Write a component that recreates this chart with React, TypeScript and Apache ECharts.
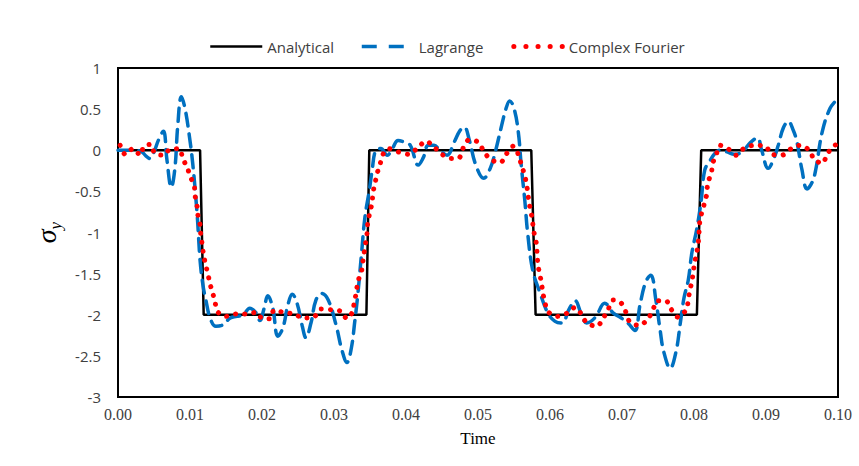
import React, { useEffect, useRef } from "react";
import * as echarts from "echarts";

const seriesNames = ["Analytical", "Lagrange", "Complex Fourier"];
const yAxisLabel = "σ";
const yAxisSub = "y";
const xAxisLabel = "Time";

const analyticalTime = [0, 0.0114, 0.0119, 0.0345, 0.0349, 0.0574, 0.058, 0.0804, 0.081, 0.1];
const analyticalSigma = [0, 0, -2, -2, 0, 0, -2, -2, 0, 0];

const lagrangeTime = [
  0.0, 0.0017, 0.0031, 0.0039, 0.0044, 0.005, 0.0056, 0.0063, 0.0068, 0.0074, 0.0079, 0.0083, 0.0088,
  0.0093, 0.0099, 0.0104, 0.011, 0.0114, 0.0118, 0.0122, 0.0128, 0.0136, 0.0144, 0.0156, 0.0165,
  0.0174, 0.0183, 0.0192, 0.0197, 0.0203, 0.0208, 0.0215, 0.0222, 0.0229, 0.0236, 0.0242, 0.0249,
  0.0256, 0.0261, 0.0268, 0.0275, 0.0283, 0.0292, 0.0303, 0.0311, 0.0318, 0.0324, 0.0329, 0.0333,
  0.0338, 0.0343, 0.0349, 0.0353, 0.0358, 0.0365, 0.0374, 0.0381, 0.0389, 0.0397, 0.0406, 0.0417,
  0.0424, 0.0431, 0.0439, 0.0447, 0.0457, 0.0467, 0.0475, 0.0481, 0.0488, 0.0497, 0.0508, 0.0517,
  0.0524, 0.0532, 0.0539, 0.0544, 0.055, 0.0556, 0.056, 0.0565, 0.0569, 0.0576, 0.0586, 0.0597,
  0.0607, 0.0617, 0.0626, 0.0635, 0.0643, 0.0651, 0.0663, 0.0676, 0.0688, 0.0699, 0.0708, 0.0718,
  0.0725, 0.0733, 0.074, 0.0747, 0.0753, 0.0758, 0.0767, 0.0775, 0.0781, 0.0786, 0.0792, 0.0797,
  0.0804, 0.081, 0.0815, 0.0822, 0.0829, 0.0836, 0.0846, 0.0856, 0.0867, 0.0878, 0.0888, 0.0894,
  0.0903, 0.091, 0.0917, 0.0924, 0.0931, 0.0938, 0.0943, 0.095, 0.0957, 0.0964, 0.0969, 0.0978,
  0.0989, 0.0999,
];
const lagrangeSigma = [
  0.0, 0.0, -0.01, -0.07, -0.1, -0.02, 0.12, 0.23, -0.12, -0.45, -0.22, 0.3, 0.65,
  0.51, 0.18, -0.18, -0.79, -1.34, -1.64, -1.82, -2.04, -2.14, -2.13, -2.04, -2.02,
  -2.0, -1.92, -1.98, -2.07, -1.92, -1.77, -1.92, -2.26, -2.16, -1.88, -1.75, -1.87,
  -2.14, -2.28, -2.1, -1.82, -1.74, -1.82, -2.13, -2.43, -2.58, -2.41, -2.07, -1.76,
  -1.28, -0.81, -0.49, -0.24, 0.0, 0.02, -0.06, 0.02, 0.12, 0.1, 0.06, -0.18,
  -0.09, 0.06, 0.06, 0.0, -0.06, 0.1, 0.24, 0.28, 0.12, -0.18, -0.34, -0.22,
  -0.02, 0.27, 0.51, 0.6, 0.51, 0.22, -0.18, -0.61, -1.01, -1.46, -1.73, -1.98,
  -2.08, -2.1, -1.94, -1.83, -1.98, -2.1, -2.03, -1.86, -1.98, -2.04, -2.1, -2.19,
  -1.88, -1.6, -1.52, -1.82, -2.19, -2.45, -2.65, -2.45, -2.1, -1.8, -1.58, -1.25,
  -0.95, -0.61, -0.24, -0.13, -0.04, 0.0, -0.02, -0.05, -0.02, 0.09, 0.15, 0.0,
  -0.22, -0.12, 0.06, 0.27, 0.35, 0.24, 0.1, -0.24, -0.47, -0.39, -0.24, 0.22,
  0.51, 0.62,
];

const fourierTime = [
  0.0003, 0.001, 0.0021, 0.0031, 0.0036, 0.0046, 0.0051, 0.0063, 0.0072, 0.0085, 0.009, 0.0096,
  0.0101, 0.0106, 0.0107, 0.011, 0.0111, 0.0114, 0.0115, 0.0117, 0.0119, 0.0122, 0.0125, 0.0128,
  0.0132, 0.0135, 0.0139, 0.015, 0.0164, 0.0179, 0.0192, 0.0201, 0.0211, 0.0217, 0.0229, 0.0244,
  0.0258, 0.0272, 0.0282, 0.0297, 0.031, 0.0318, 0.0326, 0.0328, 0.0331, 0.0333, 0.0338, 0.034,
  0.0342, 0.0344, 0.0346, 0.0347, 0.035, 0.0353, 0.0354, 0.0357, 0.036, 0.0364, 0.0368, 0.0376,
  0.0389, 0.0404, 0.0415, 0.0428, 0.0439, 0.045, 0.0463, 0.0474, 0.0479, 0.0488, 0.05, 0.0508,
  0.0517, 0.0531, 0.0539, 0.0549, 0.0556, 0.056, 0.0564, 0.0567, 0.0569, 0.0571, 0.0574, 0.0576,
  0.0578, 0.0581, 0.0582, 0.0583, 0.0585, 0.0588, 0.059, 0.0593, 0.0597, 0.061, 0.0624, 0.0635,
  0.0644, 0.0651, 0.0665, 0.0674, 0.0681, 0.0688, 0.0699, 0.0706, 0.0711, 0.0724, 0.0736, 0.0743,
  0.0749, 0.0761, 0.0768, 0.0778, 0.0789, 0.0792, 0.0794, 0.0797, 0.0799, 0.0801, 0.0804, 0.0806,
  0.0807, 0.0808, 0.0811, 0.0815, 0.0818, 0.0819, 0.0824, 0.0826, 0.0831, 0.0836, 0.0847, 0.0858,
  0.0869, 0.0883, 0.0899, 0.0908, 0.0922, 0.0935, 0.0947, 0.096, 0.0967, 0.0978, 0.0985, 0.0993,
  0.0999,
];
const fourierSigma = [
  0.06, -0.05, 0.02, -0.06, 0.05, 0.07, -0.04, -0.06, 0.01, 0.02, -0.1, -0.21,
  -0.33, -0.44, -0.55, -0.69, -0.79, -0.91, -1.03, -1.15, -1.28, -1.4, -1.51, -1.63,
  -1.75, -1.86, -1.97, -2.02, -1.99, -1.99, -1.97, -2.05, -2.05, -1.94, -1.97, -1.99,
  -2.04, -2.03, -1.93, -1.94, -1.96, -2.05, -1.96, -1.85, -1.73, -1.6, -1.48, -1.36,
  -1.24, -1.12, -1.0, -0.87, -0.75, -0.63, -0.52, -0.4, -0.28, -0.17, -0.05, 0.02,
  -0.02, -0.05, 0.02, 0.11, 0.04, -0.05, -0.1, -0.09, 0.02, 0.13, 0.1, -0.01,
  -0.11, -0.15, -0.05, 0.05, -0.05, -0.17, -0.28, -0.39, -0.51, -0.64, -0.77, -0.89,
  -1.01, -1.13, -1.25, -1.37, -1.48, -1.6, -1.73, -1.85, -1.96, -2.02, -1.98, -1.91,
  -2.0, -2.1, -2.14, -2.04, -1.93, -1.82, -1.86, -1.98, -2.09, -2.13, -2.05, -1.94,
  -1.83, -1.83, -1.93, -2.03, -1.94, -1.83, -1.71, -1.6, -1.48, -1.36, -1.24, -1.12,
  -1.0, -0.87, -0.75, -0.63, -0.52, -0.4, -0.28, -0.16, -0.05, 0.06, 0.02, -0.06,
  0.02, 0.06, 0.05, -0.05, -0.06, 0.02, 0.06, 0.0, -0.11, -0.16, -0.05, 0.05,
  0.07,
];

const zip = (xs: number[], ys: number[]) => xs.map((x, i) => [x, ys[i]]);

export default function App() {
  const ref = useRef<HTMLDivElement>(null);
  useEffect(() => {
    if (!ref.current) return;
    const chart = echarts.init(ref.current, null, { renderer: "svg" });
    chart.setOption({
      animation: false,
      backgroundColor: "#ffffff",
      grid: {
        left: 118,
        right: 21,
        top: 68,
        bottom: 69,
        show: true,
        borderColor: "#000000",
        borderWidth: 2,
        backgroundColor: "transparent",
      },
      legend: {
        left: 204,
        top: 34,
        itemWidth: 52,
        itemHeight: 14,
        itemGap: 26,
        itemStyle: { opacity: 0 },
        textStyle: { fontFamily: "Open Sans", fontSize: 15, color: "#404040" },
        data: [
          { name: seriesNames[0], lineStyle: { color: "#000000", width: 2.5, type: "solid" } },
          { name: seriesNames[1], lineStyle: { color: "#0070C0", width: 3.5, type: [15, 12], cap: "butt" } },
          { name: seriesNames[2], lineStyle: { color: "#FF0000", width: 5, type: [0.1, 12], cap: "round", dashOffset: -2 } },
        ],
      },
      xAxis: {
        type: "value",
        min: 0,
        max: 0.1,
        interval: 0.01,
        name: xAxisLabel,
        nameLocation: "middle",
        nameGap: 33,
        nameTextStyle: { fontFamily: "Liberation Serif", fontSize: 17, color: "#000000" },
        axisLine: { show: false },
        axisTick: { show: false },
        splitLine: { show: false },
        axisLabel: {
          margin: 9,
          fontFamily: "Liberation Serif",
          fontSize: 16,
          color: "#404040",
          formatter: (v: number) => v.toFixed(2),
        },
      },
      yAxis: {
        type: "value",
        min: -3,
        max: 1,
        interval: 0.5,
        name: "{a|" + yAxisLabel + "}{b|" + yAxisSub + "}",
        nameLocation: "middle",
        nameRotate: 90,
        nameGap: 50,
        nameTextStyle: {
          rich: {
            a: { fontFamily: "Liberation Serif", fontStyle: "italic", fontSize: 28, color: "#000000", lineHeight: 30, verticalAlign: "middle" },
            b: { fontFamily: "Liberation Serif", fontStyle: "italic", fontSize: 17, color: "#000000", lineHeight: 36, verticalAlign: "bottom" },
          },
        },
        axisLine: { show: false },
        axisTick: { show: false },
        splitLine: { show: false },
        axisLabel: {
          margin: 17,
          fontFamily: "Open Sans",
          fontSize: 15,
          color: "#404040",
          formatter: (v: number) => String(v),
        },
      },
      series: [
        {
          name: seriesNames[0],
          type: "line",
          data: zip(analyticalTime, analyticalSigma),
          showSymbol: false,
          symbol: "none",
          lineStyle: { color: "#000000", width: 2.5 },
          itemStyle: { color: "#000000" },
          z: 3,
        },
        {
          name: seriesNames[1],
          type: "line",
          data: zip(lagrangeTime, lagrangeSigma),
          showSymbol: false,
          symbol: "none",
          smooth: 0.4,
          lineStyle: { color: "#0070C0", width: 3.5, type: [13, 8], cap: "round" },
          itemStyle: { color: "#0070C0" },
          z: 4,
        },
        {
          name: seriesNames[2],
          type: "line",
          data: zip(fourierTime, fourierSigma),
          showSymbol: false,
          symbol: "none",
          smooth: 0.3,
          lineStyle: { color: "#FF0000", width: 5, type: [0.1, 9], cap: "round" },
          itemStyle: { color: "#FF0000" },
          z: 5,
        },
      ],
    });
    return () => chart.dispose();
  }, []);
  return <div ref={ref} style={{ position: "fixed", left: 0, top: 0, width: 859, height: 466 }} />;
}
